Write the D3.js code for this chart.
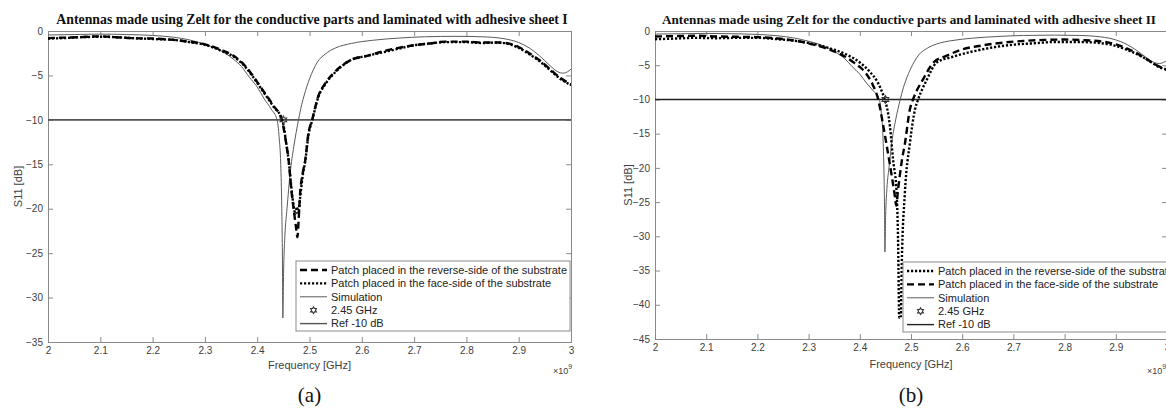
<!DOCTYPE html>
<html><head><meta charset="utf-8">
<script src="https://cdn.jsdelivr.net/npm/d3@7"></script>
<style>
body{margin:0;background:#fff;}
svg{display:block;}
</style></head><body>
<svg id="chart" width="1166" height="409"></svg>
<script>
// ---------- data ----------
const xTicks = [2, 2.1, 2.2, 2.3, 2.4, 2.5, 2.6, 2.7, 2.8, 2.9, 3];
const xTickLabels = ["2", "2.1", "2.2", "2.3", "2.4", "2.5", "2.6", "2.7", "2.8", "2.9", "3"];
const yTicksA = [0, -5, -10, -15, -20, -25, -30, -35];
const yTicksB = [0, -5, -10, -15, -20, -25, -30, -35, -40, -45];

const titleA = "Antennas made using Zelt for the conductive parts and laminated with adhesive sheet I";
const titleB = "Antennas made using Zelt for the conductive parts and laminated with adhesive sheet II";
const labelReverse = "Patch placed in the reverse-side of the substrate";
const labelFace = "Patch placed in the face-side of the substrate";
const labelSim = "Simulation";
const labelMarker = "2.45 GHz";
const labelRef = "Ref -10 dB";

const markerFreq = 2.45;
const markerLevel = -10;
const refLevel = -10;

// [frequency GHz, S11 dB]
const simulation = [[2.00,-0.45],[2.05,-0.4],[2.10,-0.35],[2.15,-0.4],[2.20,-0.5],[2.24,-0.7],[2.27,-1.0],[2.30,-1.5],[2.33,-2.2],[2.355,-3.2],[2.37,-4.0],[2.385,-5.2],[2.40,-6.3],[2.413,-7.6],[2.427,-8.8],[2.438,-10.0],[2.442,-12],[2.445,-15],[2.447,-20],[2.4483,-26],[2.449,-32.3],[2.4505,-27],[2.453,-23],[2.457,-20],[2.463,-16],[2.47,-13],[2.479,-10],[2.485,-8.3],[2.49,-7.2],[2.50,-5.4],[2.507,-4.4],[2.515,-3.5],[2.53,-2.6],[2.55,-1.9],[2.58,-1.4],[2.62,-1.05],[2.67,-0.8],[2.72,-0.65],[2.78,-0.6],[2.83,-0.65],[2.87,-0.85],[2.90,-1.3],[2.92,-1.9],[2.94,-2.8],[2.96,-3.9],[2.975,-4.6],[2.985,-4.75],[2.993,-4.6],[3.00,-4.3]];

const reverseA = [[2.00,-0.8],[2.03,-0.75],[2.06,-0.7],[2.10,-0.6],[2.13,-0.7],[2.16,-0.8],[2.20,-0.85],[2.24,-1.0],[2.27,-1.2],[2.30,-1.5],[2.33,-2.1],[2.36,-3.0],[2.375,-3.8],[2.39,-4.9],[2.41,-6.6],[2.431,-8.4],[2.447,-10],[2.455,-12.5],[2.46,-14.5],[2.466,-18.3],[2.47,-20.2],[2.474,-22],[2.477,-23.2],[2.479,-21.5],[2.482,-18.3],[2.487,-16],[2.492,-14.5],[2.498,-11.5],[2.505,-10],[2.517,-7.3],[2.53,-5.9],[2.55,-4.5],[2.578,-3.3],[2.61,-2.8],[2.64,-2.3],[2.67,-1.9],[2.70,-1.6],[2.73,-1.4],[2.76,-1.2],[2.80,-1.2],[2.83,-1.3],[2.86,-1.3],[2.88,-1.4],[2.90,-1.8],[2.92,-2.5],[2.94,-3.3],[2.96,-4.3],[2.98,-5.3],[3.00,-6.0]];

const faceA = [[2.00,-0.85],[2.03,-0.8],[2.06,-0.7],[2.10,-0.65],[2.13,-0.7],[2.16,-0.8],[2.20,-0.9],[2.24,-1.0],[2.27,-1.25],[2.30,-1.55],[2.33,-2.2],[2.36,-3.1],[2.375,-3.9],[2.39,-5.0],[2.41,-6.7],[2.431,-8.5],[2.448,-10],[2.456,-12.8],[2.461,-15],[2.466,-18],[2.47,-19.8],[2.473,-20.6],[2.476,-19.8],[2.479,-20.5],[2.482,-18.8],[2.487,-16.3],[2.492,-14.6],[2.498,-11.7],[2.505,-10.1],[2.517,-7.4],[2.53,-6.0],[2.55,-4.6],[2.578,-3.3],[2.61,-2.8],[2.64,-2.4],[2.67,-2.0],[2.70,-1.6],[2.73,-1.4],[2.76,-1.25],[2.80,-1.25],[2.83,-1.35],[2.86,-1.3],[2.88,-1.45],[2.90,-1.9],[2.92,-2.6],[2.94,-3.4],[2.96,-4.4],[2.98,-5.4],[3.00,-6.1]];

const reverseB = [[2.00,-1.2],[2.04,-1.1],[2.08,-1.0],[2.12,-1.05],[2.16,-1.0],[2.20,-1.0],[2.24,-1.2],[2.28,-1.5],[2.31,-1.9],[2.34,-2.5],[2.37,-3.3],[2.40,-4.6],[2.42,-6.0],[2.435,-7.5],[2.444,-9.0],[2.449,-10],[2.459,-14],[2.465,-18.8],[2.472,-23.7],[2.475,-31.6],[2.477,-41.9],[2.480,-41.9],[2.482,-34],[2.488,-23.7],[2.498,-16.3],[2.508,-11.4],[2.514,-10],[2.531,-7.1],[2.55,-4.6],[2.58,-3.8],[2.62,-3.0],[2.66,-2.4],[2.70,-2.0],[2.74,-1.8],[2.78,-1.6],[2.82,-1.6],[2.86,-1.7],[2.89,-2.0],[2.92,-2.7],[2.95,-3.7],[2.97,-4.6],[2.985,-5.3],[3.00,-5.6]];

const faceB = [[2.00,-0.8],[2.04,-0.75],[2.08,-0.7],[2.12,-0.8],[2.16,-0.85],[2.20,-0.9],[2.24,-1.1],[2.28,-1.5],[2.31,-2.0],[2.34,-2.7],[2.37,-3.7],[2.39,-4.7],[2.41,-6.0],[2.425,-7.8],[2.436,-10],[2.445,-13.5],[2.452,-16.5],[2.462,-21],[2.469,-24.4],[2.471,-25.5],[2.475,-23],[2.482,-19],[2.488,-16.5],[2.498,-11.4],[2.504,-10],[2.524,-7.0],[2.544,-4.6],[2.57,-3.6],[2.60,-2.7],[2.64,-2.1],[2.68,-1.7],[2.72,-1.45],[2.76,-1.3],[2.80,-1.25],[2.84,-1.35],[2.88,-1.6],[2.91,-2.2],[2.94,-3.2],[2.96,-4.1],[2.98,-5.0],[3.00,-5.7]];

// ---------- styles ----------
const styles = {
  dashed: {stroke: "#000", width: 2.4, dash: "7,4"},
  dotted: {stroke: "#000", width: 2.4, dash: "2.2,1.8"},
  sim: {stroke: "#5a5a5a", width: 1, dash: null},
  ref: {stroke: "#444", width: 1.6, dash: null}
};

const svg = d3.select("#chart");

function hexagramPath(r) {
  const pts = [];
  for (let i = 0; i < 12; i++) {
    const a = Math.PI / 6 * i - Math.PI / 2;
    const rr = i % 2 === 0 ? r : r * 0.58;
    pts.push([rr * Math.cos(a), rr * Math.sin(a)]);
  }
  return "M" + pts.map(p => p[0].toFixed(2) + "," + p[1].toFixed(2)).join("L") + "Z";
}

function drawPanel(cfg) {
  const g = svg.append("g");
  const x = d3.scaleLinear().domain([2, 3]).range(cfg.xRange);
  const y = d3.scaleLinear().domain([cfg.yMin, 0]).range([cfg.yRange[1], cfg.yRange[0]]);
  const [x0, x1] = cfg.xRange, [y0, y1] = cfg.yRange;

  const clipId = "clip" + cfg.id;
  g.append("clipPath").attr("id", clipId).append("rect")
    .attr("x", x0).attr("y", y0).attr("width", x1 - x0).attr("height", y1 - y0);

  // axes
  const fmt = (d) => xTickLabels[xTicks.indexOf(d)];
  const axB = g.append("g").attr("transform", `translate(0,${y1})`)
    .call(d3.axisBottom(x).tickValues(xTicks).tickFormat(fmt).tickSize(-5).tickPadding(5));
  const axT = g.append("g").attr("transform", `translate(0,${y0})`)
    .call(d3.axisTop(x).tickValues(xTicks).tickFormat("").tickSize(-5));
  const axL = g.append("g").attr("transform", `translate(${x0},0)`)
    .call(d3.axisLeft(y).tickValues(cfg.yTicks).tickFormat(d3.format("d")).tickSize(-5).tickPadding(5));
  const axR = g.append("g").attr("transform", `translate(${x1},0)`)
    .call(d3.axisRight(y).tickValues(cfg.yTicks).tickFormat("").tickSize(-5));
  [axB, axT, axL, axR].forEach(a => {
    a.selectAll("path.domain").attr("stroke", "#8a8a8a").attr("stroke-width", 1);
    a.selectAll(".tick line").attr("stroke", "#8a8a8a");
    a.selectAll("text").attr("fill", "#404040").style("font-family", "'Liberation Sans', Arial, sans-serif").style("font-size", "10px");
  });

  const plot = g.append("g").attr("clip-path", `url(#${clipId})`);
  const line = d3.line().x(d => x(d[0])).y(d => y(d[1])).curve(d3.curveMonotoneX);

  // ref line
  plot.append("line").attr("x1", x0).attr("x2", x1).attr("y1", y(refLevel)).attr("y2", y(refLevel))
    .attr("stroke", cfg.refColor).attr("stroke-width", styles.ref.width);
  // simulation
  plot.append("path").datum(simulation).attr("d", line).attr("fill", "none")
    .attr("stroke", styles.sim.stroke).attr("stroke-width", styles.sim.width);
  // measurements
  cfg.series.forEach(s => {
    const st = styles[s.style];
    plot.append("path").datum(s.data).attr("d", line).attr("fill", "none")
      .attr("stroke", st.stroke).attr("stroke-width", st.width).attr("stroke-dasharray", st.dash);
  });
  // marker
  plot.append("path").attr("d", hexagramPath(3.8))
    .attr("transform", `translate(${x(markerFreq)},${y(markerLevel)})`)
    .attr("fill", "none").attr("stroke", "#333").attr("stroke-width", 1.1);

  // title
  g.append("text").attr("x", cfg.titleX).attr("y", 24).attr("text-anchor", "middle")
    .style("font-family", "'Liberation Serif', 'Times New Roman', serif").style("font-weight", "bold")
    .style("font-size", cfg.titleSize + "px").attr("fill", "#111").text(cfg.title);
  // y label
  g.append("text").attr("transform", `translate(${cfg.yLabelX},${(y0 + y1) / 2}) rotate(-90)`)
    .attr("text-anchor", "middle").style("font-family", "'Liberation Sans', Arial, sans-serif")
    .style("font-size", "11px").attr("fill", "#404040").text("S11 [dB]");
  // x label
  g.append("text").attr("x", (x0 + x1) / 2).attr("y", cfg.xLabelY).attr("text-anchor", "middle")
    .style("font-family", "'Liberation Sans', Arial, sans-serif").style("font-size", "11px")
    .attr("fill", "#404040").text("Frequency [GHz]");
  // exponent
  const ex = g.append("text").attr("x", cfg.expX).attr("y", 374)
    .style("font-family", "'Liberation Sans', Arial, sans-serif").style("font-size", "9px").attr("fill", "#404040");
  ex.append("tspan").text("\u00d710");
  ex.append("tspan").attr("dy", -5).style("font-size", "7px").text("9");
  // sub label
  g.append("text").attr("x", (x0 + x1) / 2).attr("y", 402).attr("text-anchor", "middle")
    .style("font-family", "'Liberation Serif', 'Times New Roman', serif").style("font-size", "21px")
    .attr("fill", "#111").text(cfg.sub);

  // legend
  const L = cfg.legend;
  const lg = g.append("g");
  lg.append("rect").attr("x", L.x).attr("y", L.y).attr("width", L.w).attr("height", L.h)
    .attr("fill", "#fff").attr("stroke", "#8a8a8a").attr("stroke-width", 1);
  cfg.legendItems.forEach((it, i) => {
    const cy = L.y + 9 + i * 13.4;
    const sx0 = L.x + 4, sx1 = L.x + 31;
    if (it.type === "marker") {
      lg.append("path").attr("d", hexagramPath(3.3)).attr("transform", `translate(${(sx0 + sx1) / 2},${cy})`)
        .attr("fill", "none").attr("stroke", "#333").attr("stroke-width", 1.1);
    } else {
      const st = it.type === "ref" ? {stroke: cfg.refColor, width: 1.4, dash: null} : styles[it.type];
      lg.append("line").attr("x1", sx0).attr("x2", sx1).attr("y1", cy).attr("y2", cy)
        .attr("stroke", st.stroke).attr("stroke-width", st.width).attr("stroke-dasharray", st.dash);
    }
    lg.append("text").attr("x", L.x + 35).attr("y", cy).attr("dy", "0.35em")
      .style("font-family", "'Liberation Sans', Arial, sans-serif").style("font-size", "11px")
      .attr("fill", "#222").text(it.label);
  });
}

drawPanel({
  id: "A", xRange: [48, 571], yRange: [31, 342], yMin: -35, yTicks: yTicksA,
  title: titleA, titleX: 312, titleSize: 13.8, sub: "(a)", yLabelX: 22, xLabelY: 369, expX: 553, refColor: "#555",
  series: [{data: faceA, style: "dotted"}, {data: reverseA, style: "dashed"}],
  legend: {x: 296, y: 261, w: 274, h: 70},
  legendItems: [
    {type: "dashed", label: labelReverse},
    {type: "dotted", label: labelFace},
    {type: "sim", label: labelSim},
    {type: "marker", label: labelMarker},
    {type: "ref", label: labelRef}
  ]
});

drawPanel({
  id: "B", xRange: [655, 1167], yRange: [31, 339], yMin: -45, yTicks: yTicksB,
  title: titleB, titleX: 909, titleSize: 13.2, sub: "(b)", yLabelX: 632, xLabelY: 368, expX: 1147, refColor: "#222",
  series: [{data: reverseB, style: "dotted"}, {data: faceB, style: "dashed"}],
  legend: {x: 903, y: 262, w: 272, h: 70},
  legendItems: [
    {type: "dotted", label: labelReverse},
    {type: "dashed", label: labelFace},
    {type: "sim", label: labelSim},
    {type: "marker", label: labelMarker},
    {type: "ref", label: labelRef}
  ]
});
</script>
</body></html>
